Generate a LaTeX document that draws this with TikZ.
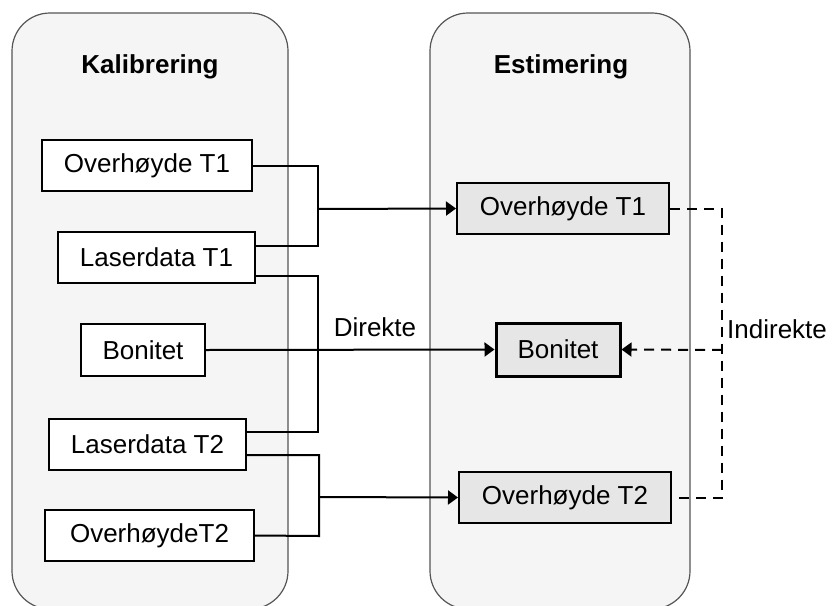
\documentclass[tikz,border=0pt]{standalone}
\usepackage{fontspec}
\setmainfont{Liberation Sans}
\usetikzlibrary{arrows.meta,calc}
\definecolor{panelfill}{HTML}{F5F5F5}
\definecolor{panelline}{HTML}{555555}
\definecolor{estfill}{HTML}{E6E6E6}
\tikzset{
  panel/.style={draw=panelline,line width=1.2pt,fill=panelfill,rounded corners=38pt},
  title/.style={font=\fontsize{26}{31}\selectfont\bfseries,inner sep=0pt},
  calbox/.style={draw=black,line width=2pt,fill=white,minimum height=51pt,
    inner sep=0pt,font=\fontsize{26}{31}\selectfont},
  estbox/.style={calbox,fill=estfill},
  link/.style={draw=black,line width=2pt},
  tip/.style={-{Triangle[length=10pt,width=14pt]}},
  flow/.style={link,tip},
  indirect/.style={link,dash pattern=on 10pt off 7pt},
  lbl/.style={font=\fontsize{26}{31}\selectfont,inner sep=0pt}
}
\begin{document}
\begin{tikzpicture}[x=1pt,y=-1pt]
\useasboundingbox (0,0) rectangle (837,605);
% the two stages
\path[panel] (12,13) rectangle (288,609);
\path[panel] (430,13) rectangle (690,609);
\node[title] (tcal) at (150,67) {Kalibrering};
\node[title] (test) at (561,67) {Estimering};

% calibration inputs
\node[calbox,minimum width=210pt] (lo1) at (147,165.5) {Overhøyde T1};
\node[calbox,minimum width=197pt] (ll1) at (156.5,257.5) {Laserdata T1};
\node[calbox,minimum width=124pt,minimum height=52pt] (lb) at (143,350) {Bonitet};
\node[calbox,minimum width=197pt] (ll2) at (147.5,444.5) {Laserdata T2};
\node[calbox,minimum width=209pt] (lo2) at (149.5,535.5) {OverhøydeT2};

% estimated quantities
\node[estbox,minimum width=212pt] (ro1) at (563,208.5) {Overhøyde T1};
\node[estbox,minimum width=124pt,minimum height=53pt,line width=3pt] (rb) at (558,349.5) {Bonitet};
\node[estbox,minimum width=212pt] (ro2) at (565,497.5) {Overhøyde T2};

% bracket joins: each pair of inputs meets in a vertical bar
\coordinate (j1) at (318,209);
\coordinate (j2) at (319,497);
\draw[link] (lo1.east) -| (318,246) -- ($(ll1.east)+(0,-11.5)$);
\draw[link] ($(ll1.east)+(0,18.5)$) -| (318,432) -- ($(ll2.east)+(0,-12.5)$);
\draw[link] ($(ll2.east)+(0,10.5)$) -| (319,536) -- (lo2.east);
\draw[flow] (j1) -- (ro1.west);
\draw[flow] (j2) -- (ro2.west);
\draw[flow] (lb.east) -- (rb.west);
\node[lbl] (ldir) at (375,327) {Direkte};

% indirect estimation
\coordinate (k1) at (722,208.5);
\coordinate (k2) at (722,497.5);
\coordinate (km) at (722,350);
\draw[indirect] (ro1.east) -- (k1) -- (k2) -- (ro2.east);
\draw[indirect,tip] (km) -- (rb.east);
\node[lbl,anchor=west] (lind) at (727,329) {Indirekte};
\end{tikzpicture}
\end{document}
